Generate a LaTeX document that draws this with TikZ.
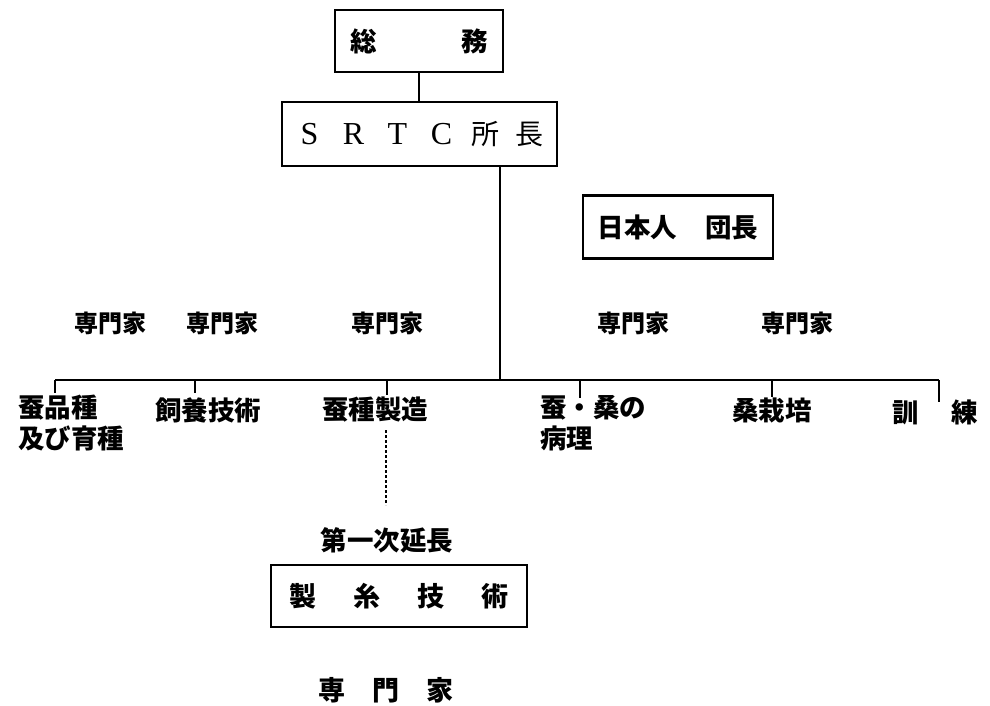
\documentclass[tikz,border=0pt]{standalone}
\usepackage{fontspec}
\setmainfont{Liberation Serif}
\newfontfamily\cjk{Noto Sans CJK JP}
\newcommand\cellw[2]{\makebox[#1]{#2}}
\begin{document}
\begin{tikzpicture}[x=1pt,y=-1pt,
  box/.style={draw,line width=2.2pt,inner sep=0pt},
  lab/.style={font=\cjk\bfseries\fontsize{26.5}{31}\selectfont,inner sep=0pt},
  expert/.style={font=\cjk\bfseries\fontsize{24}{28}\selectfont,inner sep=0pt},
  ln/.style={line width=1.8pt}]
\useasboundingbox[fill=white] (0,0) rectangle (990,705);
% top boxes
\node[box,lab,minimum width=168pt,minimum height=62pt] (soumu) at (419,41) {総\hspace{84pt}務};
\node[box,minimum width=275pt,minimum height=64pt,font=\fontsize{32}{36}\selectfont] (srtc) at (419.5,134)
  {\cellw{44pt}{S}\cellw{44pt}{R}\cellw{44pt}{T}\cellw{44pt}{C}\cellw{44pt}{\cjk\fontsize{28}{32}\selectfont 所}\cellw{44pt}{\cjk\fontsize{28}{32}\selectfont 長}};
\node[box,lab,minimum width=190pt,minimum height=63pt] (dancho) at (678,227) {日本人\hspace{28pt}団長};
\draw[ln] (soumu.south) -- (srtc.north -| soumu.south);
% experts
\node[expert] (e1) at (110,323) {専門家};
\node[expert] (e2) at (222,323) {専門家};
\node[expert] (e3) at (387,323) {専門家};
\node[expert] (e4) at (633,323) {専門家};
\node[expert] (e5) at (797,323) {専門家};
% bus
\coordinate (bus) at (500,380);
\coordinate (bl) at (55,380);
\coordinate (br) at (939,380);
\draw[ln] (srtc.south -| bus) -- (bus);
\draw[ln] (bl) -- (br);
% sections
\node[lab,anchor=north west,align=left] (s1) at (18,395) {蚕品種\\及び育種};
\node[lab] (s2) at (208,410) {飼養技術};
\node[lab] (s3) at (375,410) {蚕種製造};
\node[lab,anchor=north west,align=left] (s4) at (540,395) {蚕・桑の\\病理};
\node[lab] (s5) at (772,410) {桑栽培};
\node[lab] (s6) at (935,412) {訓\hspace{33pt}練};
\coordinate (t2) at (195,380);
\coordinate (t3) at (387,380);
\coordinate (t4) at (580,380);
\coordinate (t5) at (772,380);
\draw[ln] (bl) -- ++(0,13);
\draw[ln] (t2) -- ++(0,13);
\draw[ln] (t3) -- ++(0,15);
\draw[ln] (t4) -- ++(0,18);
\draw[ln] (t5) -- ++(0,17);
\draw[ln] (br) -- ++(0,22);
% extension
\coordinate (d1) at (386,430);
\coordinate (d2) at (386,505);
\draw[line width=1.8pt,dash pattern=on 3pt off 2pt] (d1) -- (d2);
\node[lab] (ext) at (387,540) {第一次延長};
\node[box,minimum width=248pt,minimum height=62pt,font=\cjk\bfseries\fontsize{27}{30}\selectfont] (seishi) at (399,596)
  {\cellw{64pt}{製}\cellw{64pt}{糸}\cellw{64pt}{技}\cellw{64pt}{術}};
\node[inner sep=0pt,font=\cjk\bfseries\fontsize{27}{30}\selectfont] (sen) at (386,690)
  {\cellw{54pt}{専}\cellw{54pt}{門}\cellw{54pt}{家}};
\end{tikzpicture}
\end{document}
